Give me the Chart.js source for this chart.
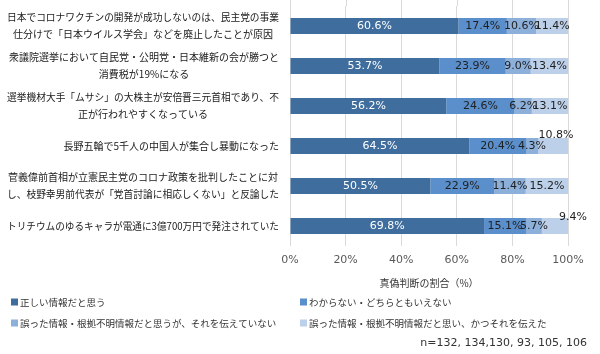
<!DOCTYPE html>
<html>
<head>
<meta charset="utf-8">
<script src="https://cdn.jsdelivr.net/npm/chart.js@4/dist/chart.umd.min.js"></script>
<style>
  html, body { margin: 0; padding: 0; background: #fff; }
  #wrap { width: 600px; height: 354px; position: relative; }
</style>
</head>
<body>
<div id="wrap"><canvas id="c" width="600" height="354"></canvas></div>
<script>
// ---- data ----
const categories = [
  ["日本でコロナワクチンの開発が成功しないのは、民主党の事業", "仕分けで「日本ウイルス学会」などを廃止したことが原因"],
  ["衆議院選挙において自民党・公明党・日本維新の会が勝つと", "消費税が19%になる"],
  ["選挙機材大手「ムサシ」の大株主が安倍晋三元首相であり、不", "正が行われやすくなっている"],
  ["長野五輪で5千人の中国人が集合し暴動になった"],
  ["菅義偉前首相が立憲民主党のコロナ政策を批判したことに対", "し、枝野幸男前代表が「党首討論に相応しくない」と反論した"],
  ["トリチウムのゆるキャラが電通に3億700万円で発注されていた"]
];
const seriesNames = [
  "正しい情報だと思う",
  "わからない・どちらともいえない",
  "誤った情報・根拠不明情報だと思うが、それを伝えていない",
  "誤った情報・根拠不明情報だと思い、かつそれを伝えた"
];
const believeTrue = [60.6, 53.7, 56.2, 64.5, 50.5, 69.8];
const unsure      = [17.4, 23.9, 24.6, 20.4, 22.9, 15.1];
const falseSilent = [10.6, 9.0, 6.2, 4.3, 11.4, 5.7];
const falseShared = [11.4, 13.4, 13.1, 10.8, 15.2, 9.4];
const xTicks = [0, 20, 40, 60, 80, 100];
const axisTitle = "真偽判断の割合（%）";
const sampleNote = "n=132, 134,130, 93, 105, 106";

// ---- style ----
const colors = ['#3F6E9E', '#5B8FCB', '#8DB0DB', '#BDD0EA'];
const labelColors = ['#ffffff', '#1f1f1f', '#1f1f1f', '#1f1f1f'];
const JP = '"Noto Sans CJK JP", "Noto Sans", sans-serif';
const NUM = '"DejaVu Sans", sans-serif';

const gridExtend = {
  id: 'gridExtend',
  beforeDatasetsDraw(chart) {
    const ctx = chart.ctx;
    const xs = chart.scales.x;
    ctx.save();
    ctx.strokeStyle = '#D9D9D9';
    ctx.lineWidth = 1;
    xs.ticks.forEach(t => {
      const x = Math.round(xs.getPixelForValue(t.value)) + 0.5;
      ctx.beginPath();
      ctx.moveTo(x, 0);
      ctx.lineTo(x, chart.chartArea.top);
      ctx.stroke();
    });
    ctx.restore();
  }
};

const valueLabels = {
  id: 'valueLabels',
  afterDatasetsDraw(chart, args, opts) {
    const ctx = chart.ctx;
    ctx.save();
    ctx.font = '11px ' + NUM;
    ctx.textBaseline = 'middle';
    ctx.textAlign = 'center';
    chart.data.datasets.forEach((ds, di) => {
      const meta = chart.getDatasetMeta(di);
      meta.data.forEach((el, i) => {
        const v = ds.data[i];
        let x = (el.x + el.base) / 2;
        let y = el.y;
        const nudge = opts.nudge[di + '-' + i];
        if (nudge) { x += nudge[0]; y += nudge[1]; }
        ctx.fillStyle = labelColors[di];
        ctx.fillText(v.toFixed(1) + '%', x, y + 0.5);
      });
    });
    ctx.restore();
  }
};

const yLabels = {
  id: 'yLabels',
  afterDraw(chart) {
    const ctx = chart.ctx;
    const ys = chart.scales.y;
    ctx.save();
    ctx.font = '10px ' + JP;
    ctx.fillStyle = '#1a1a1a';
    ctx.textBaseline = 'middle';
    ctx.textAlign = 'center';
    const right = ys.right - 11;
    const maxW = 272;
    const lh = 17;
    chart.data.labels.forEach((lines, i) => {
      const cy = ys.getPixelForValue(i);
      const w = Math.min(maxW, Math.max(...lines.map(l => ctx.measureText(l).width)));
      const cx = right - w / 2;
      const y0 = cy - (lines.length - 1) * lh / 2;
      lines.forEach((l, k) => ctx.fillText(l, cx, y0 + k * lh, maxW));
    });
    ctx.restore();
  }
};

const legendNote = {
  id: 'legendNote',
  afterDraw(chart) {
    const ctx = chart.ctx;
    ctx.save();
    ctx.font = '9.5px ' + JP;
    ctx.textBaseline = 'middle';
    ctx.textAlign = 'left';
    const cols = [11, 300];
    const rows = [302, 323];
    chart.data.datasets.forEach((ds, di) => {
      const x = cols[di % 2];
      const y = rows[Math.floor(di / 2)];
      ctx.fillStyle = ds.backgroundColor;
      ctx.fillRect(x, y - 3.5, 7, 7);
      ctx.fillStyle = '#333333';
      ctx.fillText(ds.label, x + 9, y);
    });
    ctx.font = '11px ' + NUM;
    ctx.textAlign = 'right';
    ctx.fillStyle = '#333333';
    ctx.fillText(sampleNote, 587, 343);
    ctx.restore();
  }
};

const seriesData = [believeTrue, unsure, falseSilent, falseShared];

new Chart(document.getElementById('c'), {
  type: 'bar',
  data: {
    labels: categories,
    datasets: seriesNames.map((name, i) => ({
      label: name,
      data: seriesData[i],
      backgroundColor: colors[i],
      borderWidth: 0,
      barPercentage: 0.4,
      categoryPercentage: 1.0
    }))
  },
  options: {
    indexAxis: 'y',
    responsive: false,
    animation: false,
    devicePixelRatio: 1,
    layout: { padding: { top: 6, right: 32, bottom: 64, left: 0 } },
    plugins: {
      legend: { display: false },
      tooltip: { enabled: false },
      valueLabels: { nudge: { '3-3': [3, -11], '3-5': [18, -9] } }
    },
    scales: {
      x: {
        stacked: true,
        min: 0, max: 100,
        afterBuildTicks(scale) { scale.ticks = xTicks.map(v => ({ value: v })); },
        afterFit(scale) { scale.height = 44; },
        ticks: {
          callback: v => v + '%',
          font: { family: NUM, size: 11 },
          color: '#595959',
          padding: 8
        },
        grid: { color: '#D9D9D9', drawTicks: false },
        border: { display: false },
        title: {
          display: true,
          text: axisTitle,
          font: { family: JP, size: 10 },
          color: '#333333',
          padding: { top: 0, bottom: 1 }
        }
      },
      y: {
        stacked: true,
        afterFit(scale) { scale.width = 290; },
        ticks: { display: false },
        grid: { display: false },
        border: { display: false }
      }
    }
  },
  plugins: [gridExtend, valueLabels, yLabels, legendNote]
});
</script>
</body>
</html>
